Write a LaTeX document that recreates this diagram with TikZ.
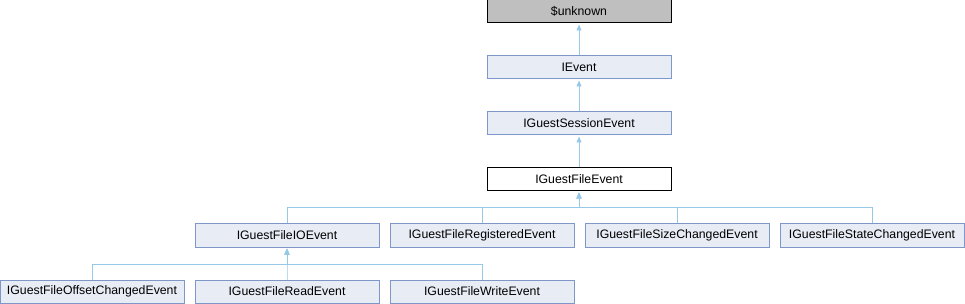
\documentclass[tikz,border=0pt]{standalone}
\usepackage{fontspec}
\setmainfont{Liberation Sans}
\usetikzlibrary{arrows.meta}
\definecolor{edgeblue}{RGB}{150,200,232}
\definecolor{nodefill}{RGB}{232,236,245}
\definecolor{nodeborder}{RGB}{126,150,200}
\definecolor{grayfill}{RGB}{191,191,191}
\begin{document}
\begin{tikzpicture}[x=1pt,y=-1pt,
  cls/.style={draw=nodeborder,fill=nodefill,line width=1pt,minimum width=184pt,minimum height=23pt,inner sep=0pt,font=\fontsize{12.3pt}{14pt}\selectfont},
  cur/.style={cls,draw=black,fill=white},
  ext/.style={cls,draw=black,fill=grayfill},
  inh/.style={draw=edgeblue,line width=1pt,-{Triangle[length=6pt,width=5pt,fill=edgeblue]},shorten >=1pt}]
\useasboundingbox (0,0) rectangle (965,304);
\node[ext] (unk) at (579,11.5) {\$unknown};
\node[cls] (ev) at (579,67.5) {IEvent};
\node[cls] (gse) at (579,123.5) {IGuestSessionEvent};
\node[cur] (gfe) at (579,179.5) {IGuestFileEvent};
\node[cls] (io) at (287,235.5) {IGuestFileIOEvent};
\node[cls] (reg) at (482,235.5) {IGuestFileRegisteredEvent};
\node[cls] (size) at (677,235.5) {IGuestFileSizeChangedEvent};
\node[cls] (state) at (872,235.5) {IGuestFileStateChangedEvent};
\node[cls] (off) at (92,291.5) {IGuestFileOffsetChangedEvent};
\node[cls] (read) at (287,291.5) {IGuestFileReadEvent};
\node[cls] (write) at (482,291.5) {IGuestFileWriteEvent};
\coordinate (b4) at (0,208);
\coordinate (b5) at (0,264);
\draw[inh] (ev.north) -- (unk.south);
\draw[inh] (gse.north) -- (ev.south);
\draw[inh] (gfe.north) -- (gse.south);
\foreach \c in {io,reg,size,state}
  \draw[inh] (\c.north) |- (b4 -| gfe.south) -- (gfe.south);
\foreach \c in {off,read,write}
  \draw[inh] (\c.north) |- (b5 -| io.south) -- (io.south);
\end{tikzpicture}
\end{document}
